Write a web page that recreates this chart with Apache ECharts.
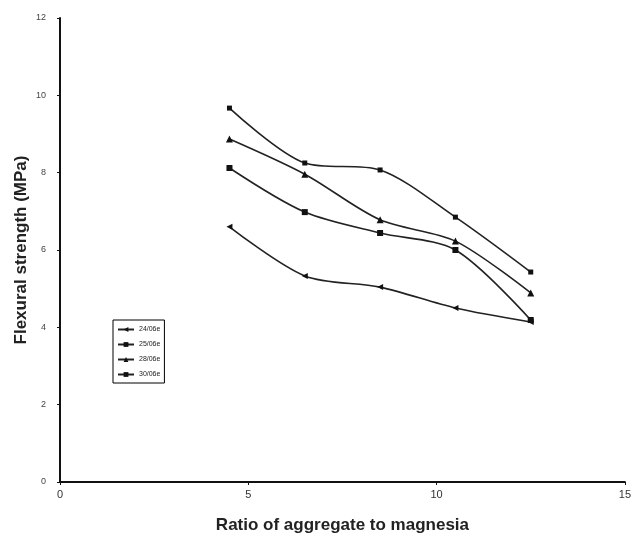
<!DOCTYPE html>
<html>
<head>
<meta charset="utf-8">
<script src="https://cdn.jsdelivr.net/npm/echarts@6/dist/echarts.min.js"></script>
<style>
  html, body { margin: 0; padding: 0; background: #fff; }
  #chart { width: 634px; height: 545px; }
</style>
</head>
<body>
<div id="chart"></div>
<script>
// ratio of aggregate to magnesia
const ratios = [4.5, 6.5, 8.5, 10.5, 12.5];
const seriesNames = ['24/06e', '25/06e', '28/06e', '30/06e'];
const s24 = [6.6, 5.33, 5.04, 4.5, 4.14];
const s25 = [9.67, 8.25, 8.07, 6.85, 5.43];
const s28 = [8.87, 7.96, 6.78, 6.23, 4.89];
const s30 = [8.12, 6.98, 6.44, 6.0, 4.19];

const chart = echarts.init(document.getElementById('chart'));

function pairs(vals) {
  return ratios.map((r, i) => [r, vals[i]]);
}

const symbols = ['path://M0,5 L10,0 L10,10 Z', 'rect', 'triangle', 'rect'];
const sizes = [6, 5, 7, 6];
const allData = [s24, s25, s28, s30];

let option = {
  animation: false,
  backgroundColor: '#fff',
  grid: {
    left: 60,
    right: 7,
    top: 18,
    bottom: 63
  },
  legend: {
    orient: 'vertical',
    left: 113,
    top: 320,
    itemWidth: 16,
    itemHeight: 6,
    itemGap: 8,
    padding: [6, 4, 5, 4],
    borderColor: '#000',
    borderWidth: 1,
    textStyle: { fontSize: 7, color: '#222', fontFamily: 'Arial' },
    data: seriesNames
  },
  xAxis: {
    type: 'value',
    min: 0,
    max: 15,
    interval: 5,
    name: 'Ratio of aggregate to magnesia',
    nameLocation: 'middle',
    nameGap: 35,
    nameMoveOverlap: false,
    nameTextStyle: { fontSize: 17, fontWeight: 'bold', color: '#222', fontFamily: 'Arial' },
    axisLine: { lineStyle: { color: '#111', width: 2 } },
    axisTick: { show: true, inside: false, length: 3, lineStyle: { color: '#111' } },
    axisLabel: { fontSize: 11, color: '#333', margin: 7, fontFamily: 'Arial' },
    splitLine: { show: false }
  },
  yAxis: {
    type: 'value',
    min: 0,
    max: 12,
    interval: 2,
    name: 'Flexural strength (MPa)',
    nameLocation: 'middle',
    nameGap: 30,
    nameMoveOverlap: false,
    nameTextStyle: { fontSize: 17, fontWeight: 'bold', color: '#222', fontFamily: 'Arial' },
    axisLine: { show: true, lineStyle: { color: '#111', width: 2 } },
    axisTick: { show: true, length: 3, lineStyle: { color: '#111' } },
    axisLabel: { fontSize: 9, color: '#444', margin: 14, fontFamily: 'Arial' },
    splitLine: { show: false }
  },
  series: seriesNames.map((name, i) => ({
    name: name,
    type: 'line',
    smooth: 0.3,
    data: pairs(allData[i]),
    symbol: symbols[i],
    symbolSize: sizes[i],
    showAllSymbol: true,
    lineStyle: { color: '#222', width: 1.6 },
    itemStyle: { color: '#111' }
  }))
};

chart.setOption(option);
</script>
</body>
</html>
